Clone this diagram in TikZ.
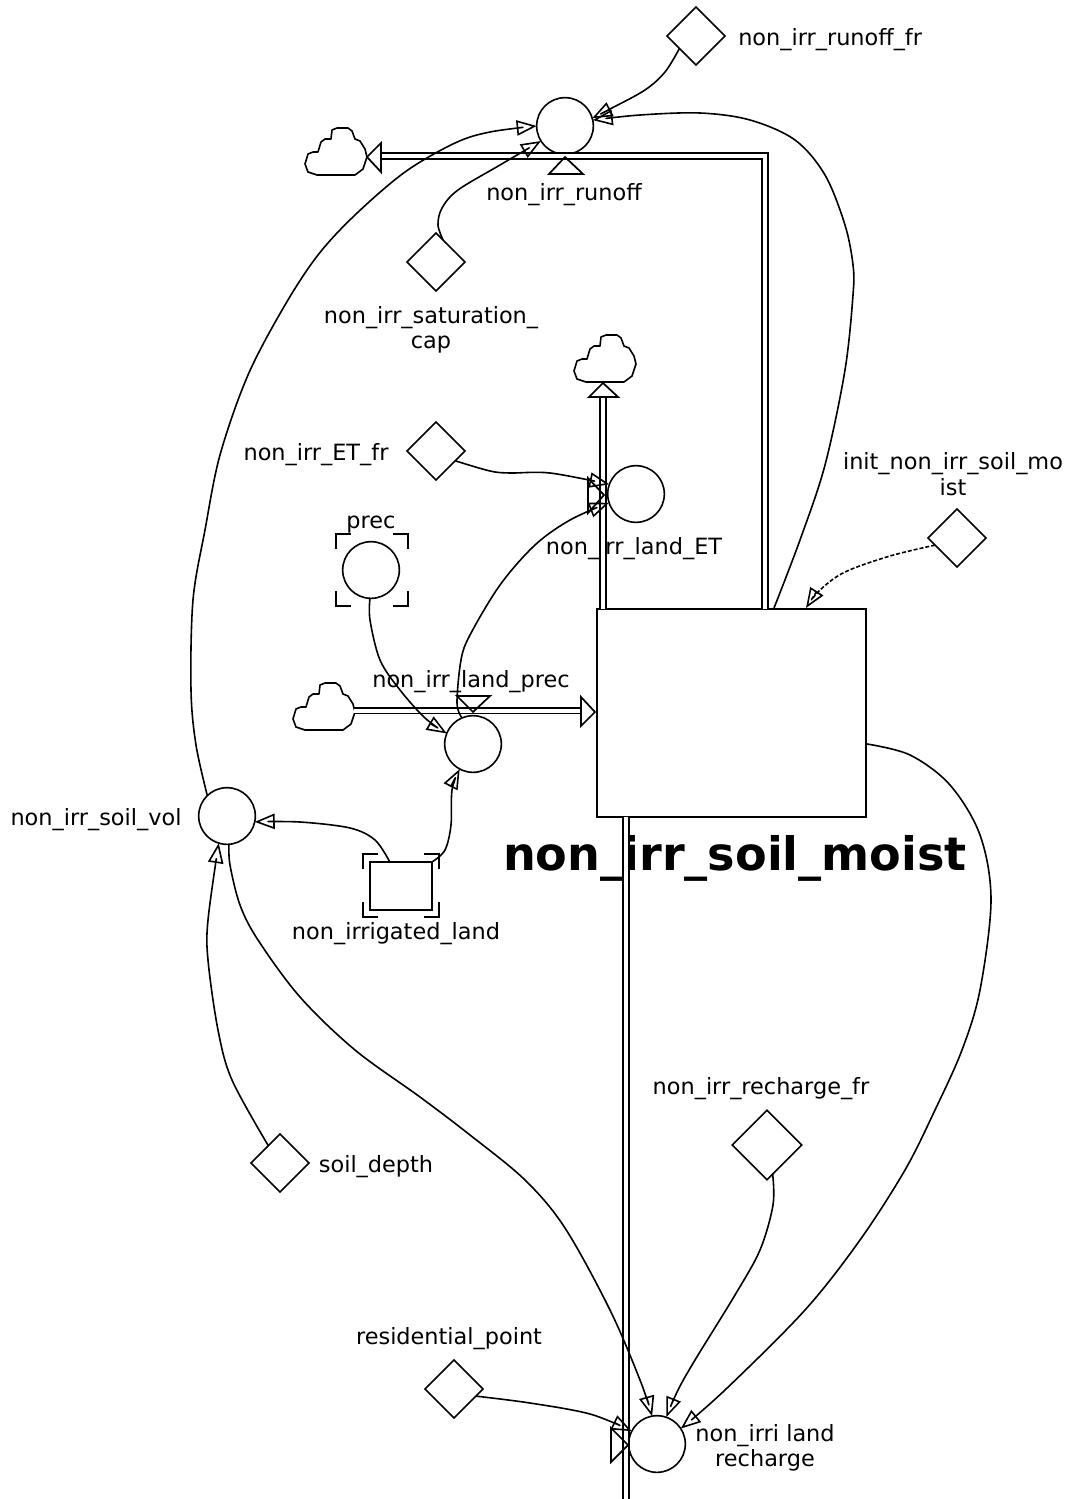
\documentclass[tikz,border=0pt]{standalone}
\usepackage{fontspec}
\setmainfont{DejaVu Sans}
\usetikzlibrary{arrows.meta,shapes.geometric}
\tikzset{
  lab/.style={inner sep=0pt,align=center,font=\fontsize{16.8}{19.2}\selectfont},
  aux/.style={circle,draw,line width=1.2pt,minimum size=42.5pt,inner sep=0pt,outer sep=0pt},
  dia/.style={diamond,draw,line width=1.2pt,aspect=1,minimum width=43.5pt,minimum height=43.5pt,inner sep=0pt,outer sep=0pt},
  dialarge/.style={dia,minimum width=52pt,minimum height=52pt},
  stockbox/.style={rectangle,draw,line width=1.2pt,inner sep=0pt,outer sep=0pt},
  conn/.style={draw,line width=1.2pt,line join=round,-{Triangle[open,length=15pt,width=11.5pt]}},
  dconn/.style={conn,dash pattern=on 3pt off 1.5pt},
  flow/.style={draw,line width=1.3pt,double,double distance=3pt,line join=miter},
  flowtip/.style={draw,line width=1.3pt,line join=miter},
  smoothp/.style={smooth,tension=.55},
  cloudshape/.pic={\draw[line width=1.2pt,line join=round] (0,36)--(3,26)--(8,24)--(13,24)--(16,14)--(20,11)--(26,11)--(27,2)--(32,0)--(43,0)--(47,3)--(50,11)--(55,13)--(60,21)--(62,29)--(58,41)--(50,47)--(12,47)--(3,44)--cycle;},
  bracket/.style={line width=1.2pt}
}
\begin{document}
\begin{tikzpicture}[x=0.75pt,y=-0.75pt]
\useasboundingbox (0,0) rectangle (1073,1499);
% labels
\node[lab,anchor=west] (lrfr) at (738,40) {non\_irr\_runoff\_fr};
\node[lab] (lr) at (564,195) {non\_irr\_runoff};
\node[lab] (lsat) at (431,330) {non\_irr\_saturation\_\\cap};
\node[lab] (letfr) at (316,455) {non\_irr\_ET\_fr};
\node[lab] (lprec) at (371,525) {prec};
\node[lab] (let) at (634,549) {non\_irr\_land\_ET};
\node[lab] (linit) at (953,474) {init\_non\_irr\_soil\_mo\\ist};
\node[lab] (lland) at (471,682) {non\_irr\_land\_prec};
\node[lab] (lsoil) at (96,820) {non\_irr\_soil\_vol};
\node[lab] (lnl) at (396,934) {non\_irrigated\_land};
\node[lab] (ldepth) at (376,1167) {soil\_depth};
\node[lab] (lrecf) at (761,1089) {non\_irr\_recharge\_fr};
\node[lab] (lres) at (449,1339) {residential\_point};
\node[lab] (lrec) at (765,1448) {non\_irri land\\recharge};
\node[inner sep=0pt,font=\fontsize{34.6}{40}\selectfont\bfseries] (ltitle) at (735,858) {non\_irr\_soil\_moist};
% nodes
\node[aux] (runoff) at (565,126) {};
\node[aux] (et) at (636,494) {};
\node[aux] (prec) at (371,570) {};
\node[aux] (lprecc) at (473,744) {};
\node[aux] (soil) at (227,816) {};
\node[aux] (rech) at (657,1444) {};
\node[dia] (rfr) at (696,36) {};
\node[dia] (sat) at (436,262) {};
\node[dia] (etfr) at (436,451) {};
\node[dia] (init) at (957,538) {};
\node[dialarge] (recf) at (767,1145) {};
\node[dia] (depth) at (280,1163) {};
\node[dia] (res) at (454,1389) {};
\node[stockbox,minimum width=201.75pt,minimum height=156pt] (box) at (731.5,713) {};
\node[stockbox,minimum width=46.5pt,minimum height=36pt] (land) at (401,886) {};
% brackets
\draw[bracket] (336,549)--(336,534)--(351,534) (393,534)--(408,534)--(408,549)
  (336,591)--(336,606)--(351,606) (393,606)--(408,606)--(408,591);
\draw[bracket] (363,869)--(363,854)--(378,854) (424,854)--(439,854)--(439,869)
  (363,902)--(363,917)--(378,917) (424,917)--(439,917)--(439,902);
% clouds
\pic at (305,128) {cloudshape};
\pic at (574,335) {cloudshape};
\pic at (293,683) {cloudshape};
\coordinate (c1) at (381,156);
\coordinate (c2) at (603,397);
\coordinate (c3) at (354,710.5);
\coordinate (f1) at (765,609);
\coordinate (f2) at (603,609);
\coordinate (f3) at (581,710.5);
\coordinate (f4) at (626,817);
\coordinate (f4e) at (626,1499);
% flows
\draw[flow] (f1) -- (765,156) -- (c1);
\draw[flow] (f2) -- (c2);
\draw[flow] (c3) -- (f3);
\draw[flow] (f4) -- (f4e);
% flow tips and valves
\draw[flowtip] (367,157)--(381,143)--(381,172)--cycle;
\draw[flowtip] (565,157)--(549,174)--(583,174)--cycle;
\draw[flowtip] (603,383)--(589,397)--(618,397)--cycle;
\draw[flowtip] (604,495)--(588,478)--(588,513)--cycle;
\draw[flowtip] (595,712)--(581,697)--(581,726)--cycle;
\draw[flowtip] (473,712)--(457,696)--(490,696)--cycle;
\draw[flowtip] (628,1445)--(611,1428)--(611,1462)--cycle;
% connectors
\coordinate (bt) at (774,608);
\coordinate (bi) at (806,608);
\coordinate (br) at (867,744);
\draw[conn] plot[smoothp] coordinates {(rfr.217) (665,72) (645,90) (612,108) (runoff.16)};
\draw[conn] plot[smoothp] coordinates {(bt) (800,540) (825,465) (845,370) (853,295) (853,265) (845,225) (825,175) (795,140) (750,120) (700,113) (640,115) (runoff.12)};
\draw[conn] plot[smoothp] coordinates {(soil.134) (196,745) (191,690) (193,600) (205,530) (220,455) (248,375) (285,305) (318,255) (355,215) (405,172) (455,143) (490,132) (runoff.180)};
\draw[conn] plot[smoothp] coordinates {(sat.72) (438,225) (442,208) (458,190) (500,165) (runoff.212)};
\draw[conn] plot[smoothp] coordinates {(etfr.-27) (490,471) (510,473) (550,473) (et.160)};
\draw[conn] plot[smoothp] coordinates {(lprecc.113) (457,703) (461,660) (470,635) (500,585) (535,545) (570,520) (et.198)};
\draw[conn] plot[smoothp] coordinates {(prec.268) (370,620) (380,660) (400,690) (425,718) (lprecc.158)};
\draw[conn] plot[smoothp] coordinates {(land.north east) (445,850) (451,825) (452,790) (lprecc.242)};
\draw[conn] plot[smoothp] coordinates {(land.115) (375,840) (350,828) (300,822) (soil.-12)};
\draw[conn] plot[smoothp] coordinates {(depth.124) (232,1080) (218,1030) (208,960) (208,920) (soil.253)};
\draw[conn] plot[smoothp] coordinates {(soil.274) (230,865) (240,905) (258,940) (300,997) (355,1050) (420,1097) (470,1135) (525,1180) (565,1228) (610,1310) (640,1380) (rech.100)};
\draw[conn] plot[smoothp] coordinates {(recf.281) (773,1205) (760,1250) (735,1295) (695,1360) (678,1390) (rech.71)};
\draw[conn] plot[smoothp] coordinates {(br) (910,755) (950,785) (980,835) (991,900) (980,990) (962,1050) (935,1110) (905,1170) (860,1240) (805,1310) (725,1390) (rech.33)};
\draw[conn] plot[smoothp] coordinates {(res.-18) (530,1403) (590,1414) (rech.153)};
\draw[dconn] plot[smoothp] coordinates {(init.198) (890,556) (845,572) (820,590) (bi)};
\end{tikzpicture}
\end{document}
